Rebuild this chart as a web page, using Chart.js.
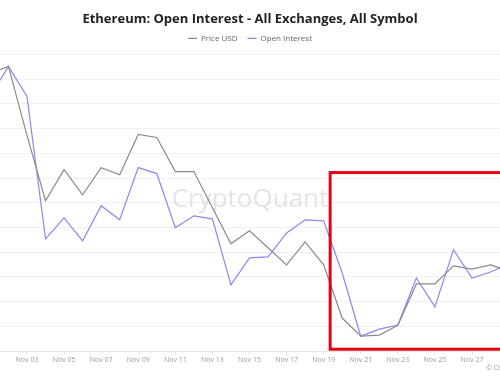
<!DOCTYPE html>
<html>
<head>
<meta charset="utf-8">
<script src="https://cdn.jsdelivr.net/npm/chart.js@4/dist/chart.umd.min.js"></script>
<style>
  html, body { margin: 0; padding: 0; background: #ffffff; }
  #wrap { width: 500px; height: 383px; position: relative; }
</style>
</head>
<body>
<div id="wrap"><canvas id="c" width="500" height="383"></canvas></div>
<script>
// ---- data ----
const dates = ["Nov 01","Nov 02","Nov 03","Nov 04","Nov 05","Nov 06","Nov 07","Nov 08","Nov 09","Nov 10",
  "Nov 11","Nov 12","Nov 13","Nov 14","Nov 15","Nov 16","Nov 17","Nov 18","Nov 19","Nov 20",
  "Nov 21","Nov 22","Nov 23","Nov 24","Nov 25","Nov 26","Nov 27","Nov 28","Nov 29"];
const priceUSD = [3873,3901,3622,3358,3484,3382,3492,3463,3626,3614,
  3476,3476,3330,3184,3237,3168,3099,3192,3099,2884,
  2811,2815,2855,3022,3022,3095,3082,3099,3074];
const openInterest = [46.30,47.51,46.30,40.54,41.39,40.46,41.88,41.31,43.42,43.18,
  40.99,41.47,41.35,38.68,39.77,39.81,40.78,41.31,41.27,39.16,
  36.61,36.89,37.06,38.96,37.79,40.10,38.96,39.20,39.53];
const tickDays = [3,5,7,9,11,13,15,17,19,21,23,25,27];
// visible window of the (cropped) time axis, in day-of-month units
const viewStart = 1.545, viewEnd = 28.51;
// highlighted region (annotation box)
const boxFromDay = 19.35, boxToDay = 31, boxTopPrice = 3472, boxBottomPrice = 2758;

const FONT = "'Open Sans', 'Noto Sans', sans-serif";

const overlay = {
  id: 'overlay',
  afterLayout(chart) {
    if (chart.legend) { chart.legend.top -= 2; chart.legend.bottom -= 2; }
  },
  beforeDatasetsDraw(chart) {
    const {ctx, chartArea: a} = chart;
    ctx.save();
    ctx.font = "400 26px " + FONT;
    ctx.fillStyle = "rgba(200,200,214,0.5)";
    ctx.textAlign = "center";
    ctx.textBaseline = "middle";
    ctx.fillText("CryptoQuant", (a.left + a.right) / 2, (a.top + a.bottom) / 2 - 3);
    ctx.restore();
  },
  afterDraw(chart) {
    const {ctx} = chart;
    const x = chart.scales.x, y = chart.scales.y;
    const x0 = x.getPixelForValue(boxFromDay), x1 = x.getPixelForValue(boxToDay);
    const y0 = y.getPixelForValue(boxTopPrice), y1 = y.getPixelForValue(boxBottomPrice);
    ctx.save();
    ctx.strokeStyle = "#e60012";
    ctx.lineWidth = 3;
    ctx.strokeRect(x0, y0, x1 - x0, y1 - y0);
    ctx.font = "400 7px " + FONT;
    ctx.fillStyle = "#9a9a9a";
    ctx.textAlign = "left";
    ctx.textBaseline = "middle";
    ctx.fillText("\u00A9 CryptoQuant", 486, 368);
    ctx.restore();
  }
};

new Chart(document.getElementById('c'), {
  type: 'line',
  data: {
    datasets: [
      {
        label: 'Price USD',
        data: priceUSD.map((v, i) => ({x: i + 1, y: v})),
        borderColor: '#8a8a8a',
        backgroundColor: '#8a8a8a',
        borderWidth: 1.2,
        pointRadius: 0,
        tension: 0,
        yAxisID: 'y'
      },
      {
        label: 'Open Interest',
        data: openInterest.map((v, i) => ({x: i + 1, y: v})),
        borderColor: '#8e86ee',
        backgroundColor: '#8e86ee',
        borderWidth: 1.2,
        pointRadius: 0,
        tension: 0,
        yAxisID: 'y2'
      }
    ]
  },
  options: {
    responsive: false,
    animation: false,
    events: [],
    layout: { padding: { left: 0, right: 0, top: 0, bottom: 16.4 } },
    plugins: {
      title: {
        display: true,
        text: 'Ethereum: Open Interest - All Exchanges, All Symbol',
        color: '#222222',
        font: { family: FONT, size: 13, weight: 'bold', lineHeight: 1.25 },
        padding: { top: 11, bottom: -0.95 }
      },
      legend: {
        display: true,
        labels: {
          color: '#666666',
          font: { family: FONT, size: 8 },
          usePointStyle: true,
          pointStyle: 'line',
          pointStyleWidth: 9,
          boxHeight: 8,
          padding: 10
        }
      },
      tooltip: { enabled: false }
    },
    scales: {
      x: {
        type: 'linear',
        min: viewStart,
        max: viewEnd,
        afterBuildTicks(scale) { scale.ticks = tickDays.map(v => ({value: v})); },
        ticks: {
          color: '#9a9a9a',
          font: { family: FONT, size: 7 },
          padding: 2,
          maxRotation: 0,
          autoSkip: false,
          callback: (v) => dates[v - 1]
        },
        grid: { drawOnChartArea: false, drawTicks: true, tickLength: 3, color: '#e3e3e3' },
        border: { color: '#e6e6e6' }
      },
      y: {
        type: 'linear',
        position: 'left',
        min: 2750,
        max: 3950,
        ticks: { display: false, stepSize: 100 },
        grid: { color: '#f1f1f3', drawTicks: false },
        border: { display: false }
      },
      y2: {
        type: 'linear',
        position: 'right',
        min: 36,
        max: 48,
        display: false
      }
    }
  },
  plugins: [overlay]
});
</script>
</body>
</html>
